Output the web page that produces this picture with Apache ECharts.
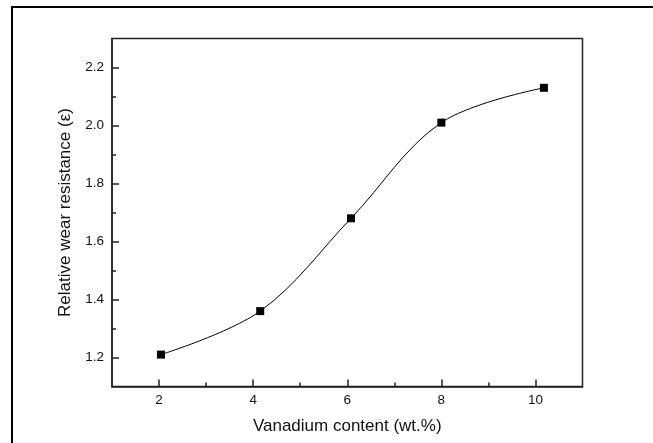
<!DOCTYPE html>
<html>
<head>
<meta charset="utf-8">
<script src="https://cdn.jsdelivr.net/npm/echarts@6/dist/echarts.min.js"></script>
<style>
  html, body { margin: 0; padding: 0; background: #fff; }
  #chart { width: 653px; height: 443px; }
</style>
</head>
<body>
<div id="chart"></div>
<script>
// vanadium content (wt.%) and relative wear resistance
const vanadium = [2.04, 4.15, 6.08, 8.0, 10.18];
const resistance = [1.21, 1.36, 1.68, 2.01, 2.13];

const xMajorTicks = [2, 4, 6, 8, 10];
const xMinorTicks = [3, 5, 7, 9];
const yMajorTicks = [1.2, 1.4, 1.6, 1.8, 2.0, 2.2];
const yMinorTicks = [1.3, 1.5, 1.7, 1.9, 2.1];

const font = 'Liberation Sans, Arial, sans-serif';
const axisColor = '#222';

const points = vanadium.map((v, i) => [v, resistance[i]]);

const myChart = echarts.init(document.getElementById('chart'), null, { renderer: 'canvas' });

const option = {
  backgroundColor: '#fff',
  animation: false,
  graphic: [{
    // outer frame of the figure (only top and left edges are in view)
    type: 'rect',
    shape: { x: 12, y: 7, width: 700, height: 500 },
    style: { fill: 'none', stroke: '#000', lineWidth: 2 },
    silent: true,
  }],
  grid: {
    left: 112,
    top: 38.5,
    right: 70.5,
    bottom: 56.5,
    show: true,
    borderColor: axisColor,
    borderWidth: 1.5,
    containLabel: false,
  },
  xAxis: [
    {
      type: 'value',
      min: 1,
      max: 11,
      name: 'Vanadium content (wt.%)',
      nameLocation: 'middle',
      nameGap: 31,
      nameTextStyle: { fontFamily: font, fontSize: 17, color: '#111' },
      axisLine: { show: true, lineStyle: { color: axisColor, width: 1.5 } },
      axisTick: {
        show: true,
        inside: true,
        length: 7,
        customValues: xMajorTicks,
        lineStyle: { color: axisColor, width: 1.5 },
      },
      axisLabel: {
        customValues: xMajorTicks,
        margin: 7,
        fontFamily: font,
        fontSize: 13.5,
        color: '#111',
      },
      splitLine: { show: false },
    },
    {
      type: 'value',
      min: 1,
      max: 11,
      position: 'bottom',
      axisLine: { show: false },
      axisTick: {
        show: true,
        inside: true,
        length: 4,
        customValues: xMinorTicks,
        lineStyle: { color: axisColor, width: 1.5 },
      },
      axisLabel: { show: false },
      splitLine: { show: false },
    },
  ],
  yAxis: [
    {
      type: 'value',
      min: 1.1,
      max: 2.3,
      name: 'Relative wear resistance (\u03b5)',
      nameLocation: 'middle',
      nameGap: 38,
      nameTextStyle: { fontFamily: font, fontSize: 17, color: '#111' },
      axisLine: { show: true, lineStyle: { color: axisColor, width: 1.5 } },
      axisTick: {
        show: true,
        inside: true,
        length: 7,
        customValues: yMajorTicks,
        lineStyle: { color: axisColor, width: 1.5 },
      },
      axisLabel: {
        customValues: yMajorTicks,
        margin: 8,
        fontFamily: font,
        fontSize: 13.5,
        color: '#111',
        formatter: (v) => v.toFixed(1),
      },
      splitLine: { show: false },
    },
    {
      type: 'value',
      min: 1.1,
      max: 2.3,
      position: 'left',
      axisLine: { show: false },
      axisTick: {
        show: true,
        inside: true,
        length: 4,
        customValues: yMinorTicks,
        lineStyle: { color: axisColor, width: 1.5 },
      },
      axisLabel: { show: false },
      splitLine: { show: false },
    },
  ],
  series: [{
    type: 'line',
    xAxisIndex: 0,
    yAxisIndex: 0,
    data: points,
    smooth: 0.35,
    symbol: 'rect',
    symbolSize: 8,
    itemStyle: { color: '#000' },
    lineStyle: { color: '#000', width: 1 },
  }],
};

myChart.setOption(option);
</script>
</body>
</html>
